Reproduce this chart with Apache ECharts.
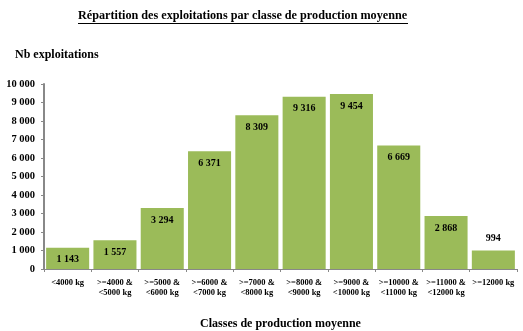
<!DOCTYPE html>
<html><head><meta charset="utf-8">
<script src="https://cdn.jsdelivr.net/npm/echarts@6/dist/echarts.min.js"></script>
<style>html,body{margin:0;padding:0;background:#fff}#c{width:523px;height:331px}</style>
</head><body><div id="c"></div>
<script>
var categories = ['<4000 kg', '>=4000 &\n<5000 kg', '>=5000 &\n<6000 kg', '>=6000 &\n<7000 kg', '>=7000 &\n<8000 kg', '>=8000 &\n<9000 kg', '>=9000 &\n<10000 kg', '>=10000 &\n<11000 kg', '>=11000 &\n<12000 kg', '>=12000 kg'];
var values = [1143, 1557, 3294, 6371, 8309, 9316, 9454, 6669, 2868, 994];
var yTicks = [0, 1000, 2000, 3000, 4000, 5000, 6000, 7000, 8000, 9000, 10000];

function fmt(v){ return String(v).replace(/\B(?=(\d{3})+(?!\d))/g, ' '); }
var serif = '"Liberation Serif", "DejaVu Serif", serif';
var chart = echarts.init(document.getElementById('c'));
chart.setOption({
  animation: false,
  title: {
    text: 'Répartition des exploitations par classe de production moyenne',
    left: 78, top: 10, padding: 0,
    textStyle: { fontFamily: serif, fontSize: 12.2, fontWeight: 'bold', color: '#000' }
  },
  graphic: [{ type: 'line', shape: { x1: 78, y1: 23.5, x2: 408, y2: 23.5 }, style: { stroke: '#000', lineWidth: 1 } }],
  grid: { left: 44, right: 6, top: 84, bottom: 62, outerBoundsMode: 'none', containLabel: false },
  xAxis: {
    type: 'category', data: categories,
    name: 'Classes de production moyenne', nameLocation: 'middle', nameGap: 49,
    nameTextStyle: { fontFamily: serif, fontSize: 12, fontWeight: 'bold', color: '#000' },
    axisLine: { lineStyle: { color: '#888', width: 1 } },
    axisTick: { show: true, length: 3, lineStyle: { color: '#888' } },
    axisLabel: { interval: 0, fontFamily: serif, fontSize: 8.5, fontWeight: 'bold', color: '#000', lineHeight: 10, margin: 9 }
  },
  yAxis: {
    type: 'value', min: yTicks[0], max: yTicks[yTicks.length - 1], interval: 1000,
    name: 'Nb exploitations', nameLocation: 'end', nameGap: 23,
    nameTextStyle: { fontFamily: serif, fontSize: 12, fontWeight: 'bold', color: '#000', align: 'left', padding: [0, 0, 0, -29] },
    axisLine: { show: true, lineStyle: { color: '#888', width: 2 } },
    axisTick: { show: true, length: 3, lineStyle: { color: '#888' } },
    splitLine: { show: false },
    axisLabel: { fontFamily: serif, fontSize: 10.5, fontWeight: 'bold', color: '#000', margin: 9, formatter: function(v){ return fmt(v); } }
  },
  series: [{
    type: 'bar', barCategoryGap: '9%',
    itemStyle: { color: '#9BBB59' },
    data: values.map(function(v){
      return { value: v, label: { position: v < 1000 ? 'top' : 'insideTop', distance: 7 } };
    }),
    label: { show: true, fontFamily: serif, fontSize: 10, fontWeight: 'bold', color: '#000', formatter: function(p){ return fmt(p.value); } }
  }]
});
</script></body></html>
